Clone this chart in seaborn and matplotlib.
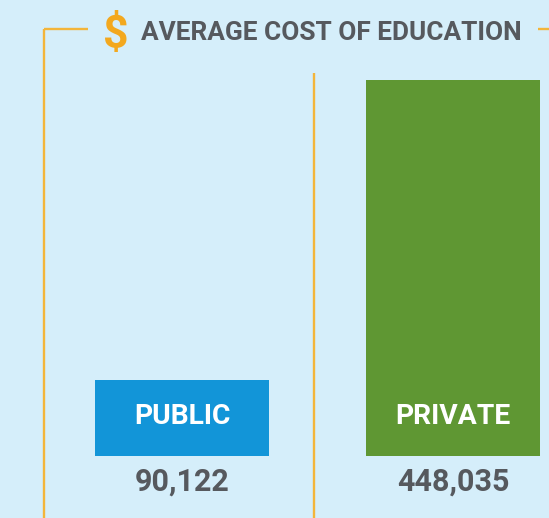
import matplotlib
matplotlib.use("Agg")
import matplotlib.pyplot as plt
import seaborn as sns
import pandas as pd

categories = ["PUBLIC", "PRIVATE"]
values = [90122, 448035]
value_labels = ["90,122", "448,035"]
bar_colors = ["#1295D8", "#5F9733"]
title = "AVERAGE COST OF EDUCATION"

BG = "#D5EEFA"
GOLD = "#F3B53A"
TXT = "#56595E"
W, H = 549, 518

sns.set_theme(style="white")
plt.rcParams['font.family'] = ['Roboto', 'DejaVu Sans']

fig = plt.figure(figsize=(W/100, H/100), dpi=100, facecolor=BG)
ax = fig.add_axes([0, 0, 1, 1])
ax.set_facecolor(BG)
# y: data units, baseline at pixel 456, private top at pixel 80
scale = 448035 / (456 - 80)

centers = [182, 453]
df = pd.DataFrame({"cat": categories, "val": values, "pos": centers})
sns.barplot(data=df, x="pos", y="val", hue="cat", palette=bar_colors,
            hue_order=categories, native_scale=True, dodge=False, saturation=1,
            width=174 / 271, linewidth=0, legend=False, ax=ax, zorder=2)
ax.set_xlim(0, W)
ax.set_ylim(-(H - 456) * scale, 456 * scale)
ax.axis("off")

def py(p):
    return (456 - p) * scale

for c, lab, vl in zip(centers, categories, value_labels):
    ax.text(c, py(417), lab, color="white", fontsize=20.3, fontweight="bold", ha="center", va="center")
    ax.text(c, py(482), vl, color=TXT, fontsize=22, fontweight="bold", ha="center", va="center")

lw = 1.7
ax.plot([44, 44], [py(518), py(29)], color=GOLD, lw=lw, solid_capstyle="butt")
ax.plot([44, 88], [py(29), py(29)], color=GOLD, lw=lw, solid_capstyle="butt")
ax.plot([538, 549], [py(29), py(29)], color=GOLD, lw=lw, solid_capstyle="butt")
ax.plot([314, 314], [py(518), py(73)], color=GOLD, lw=lw, solid_capstyle="butt")
ax.text(115.5, py(35), "$", color="#F3A81E", fontsize=32, fontweight="bold", ha="center", va="center")
ax.text(141, py(33), title, color=TXT, fontsize=18.9, fontweight="bold", ha="left", va="center")

fig.savefig("out.png", dpi=100, facecolor=BG)
